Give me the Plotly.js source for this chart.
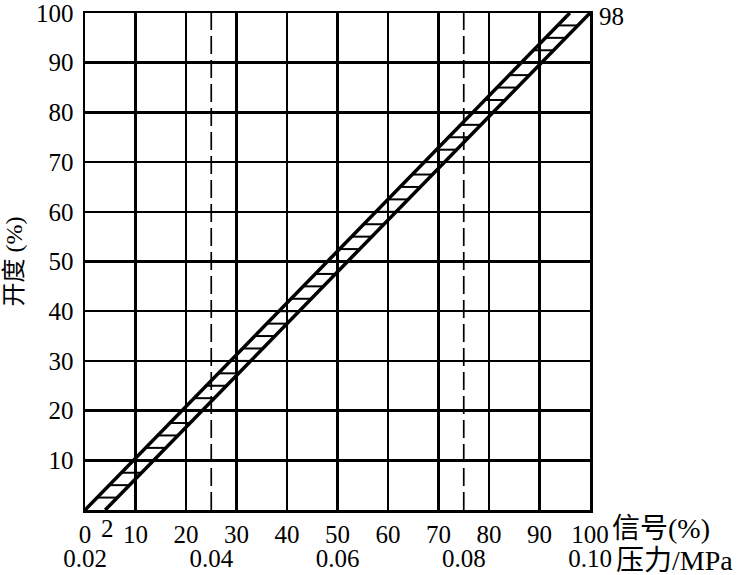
<!DOCTYPE html>
<html><head><meta charset="utf-8">
<script src="https://cdn.plot.ly/plotly-3.0.1.min.js"></script>
<style>html,body{margin:0;padding:0;background:#fff}#chart{width:746px;height:575px}</style>
</head><body><div id="chart"></div>
<script>
// Signal (%) ticks, pressure (MPa) ticks, opening (%) ticks
const signalTicks = [0,10,20,30,40,50,60,70,80,90,100];
const pressureTicks = [0.02,0.04,0.06,0.08,0.10];
const pressureTickText = ['0.02','0.04','0.06','0.08','0.10'];
const openingTicks = [10,20,30,40,50,60,70,80,90,100];

// Upper edge of the band (signal %, opening %)
const upperX = [0, 96];
const upperY = [0, 100];
// Lower edge of the band
const lowerX = [4, 100];
const lowerY = [0, 100];
// Heights of the hatch strokes across the band (opening %)
const hatchY = [2.5,5,7.5,10,12.5,15,17.5,20,22.5,25,27.5,30,32.5,35,37.5,40,42.5,45,
                47.5,50,52.5,55,57.5,60,62.5,65,67.5,70,72.5,75,77.5,80,82.5,85,87.5,90,
                92.5,95,97.5];
// Dashed reference pressures (MPa)
const refPressure = [0.04, 0.08];
const refOpening = [0, 100];
// End labels of the band
const startLabel = '2';
const endLabel = '98';

function edgeX(xs, ys, y){ return xs[0] + (xs[1]-xs[0])*(y-ys[0])/(ys[1]-ys[0]); }

const hx = [], hy = [];
hatchY.forEach(y => {
  hx.push(edgeX(upperX, upperY, y), edgeX(lowerX, lowerY, y), null);
  hy.push(y, y, null);
});

const dx = [], dy = [];
refPressure.forEach(p => { dx.push(p, p, null); dy.push(refOpening[0], refOpening[1], null); });

const serif = 'Liberation Serif, Noto Sans CJK SC, serif';
const tickFont = {family: serif, size: 25, color: '#000'};
const cjkFont = {family: serif, size: 28, color: '#000'};

const traces = [
  {x: hx, y: hy, xaxis: 'x', yaxis: 'y', mode: 'lines', line: {color: '#000', width: 2}, hoverinfo: 'skip', showlegend: false},
  {x: dx, y: dy, xaxis: 'x2', yaxis: 'y', mode: 'lines', line: {color: '#000', width: 1.7, dash: '18px,6px'}, hoverinfo: 'skip', showlegend: false},
  {x: upperX, y: upperY, xaxis: 'x', yaxis: 'y', mode: 'lines', line: {color: '#000', width: 3.5}, showlegend: false},
  {x: lowerX, y: lowerY, xaxis: 'x', yaxis: 'y', mode: 'lines', line: {color: '#000', width: 3.5}, showlegend: false}
];

const layout = {
  width: 746, height: 575,
  margin: {l: 85, r: 156, t: 13, b: 65},
  paper_bgcolor: '#fff', plot_bgcolor: '#fff',
  showlegend: false,
  xaxis: {
    range: [0, 100], tickvals: signalTicks, ticks: '', showgrid: true, gridcolor: '#000', gridwidth: 2.5,
    showline: true, linecolor: '#000', linewidth: 2.5, mirror: true, zeroline: false,
    tickfont: tickFont, ticklabelstandoff: 0, automargin: false, ticklabeloverflow: 'allow'
  },
  xaxis2: {
    overlaying: 'x', anchor: 'y', side: 'bottom', range: [0.02, 0.10],
    tickvals: pressureTicks, ticktext: pressureTickText, ticks: '', showgrid: false, showline: false,
    zeroline: false, tickfont: tickFont, ticklabelstandoff: 31, automargin: false, ticklabeloverflow: 'allow'
  },
  yaxis: {
    range: [0, 100], tickvals: openingTicks, ticks: '', showgrid: true, gridcolor: '#000', gridwidth: 2.5,
    showline: true, linecolor: '#000', linewidth: 2.5, mirror: true, zeroline: false,
    tickfont: tickFont, ticklabelstandoff: 4, automargin: false, ticklabeloverflow: 'allow',
    title: {text: '开度 (%)', font: {family: serif, size: 24, color: '#000'}, standoff: 7}
  },
  annotations: [
    {x: lowerX[0], y: lowerY[0], xref: 'x', yref: 'y', text: startLabel, showarrow: false,
     xanchor: 'center', yanchor: 'top', yshift: -3, xshift: 2, font: tickFont},
    {x: lowerX[1], y: lowerY[1], xref: 'x', yref: 'y', text: endLabel, showarrow: false,
     xanchor: 'left', yanchor: 'top', xshift: 7, yshift: 12, font: tickFont},
    {x: 1, y: 0, xref: 'paper', yref: 'paper', text: '信号(%)', showarrow: false,
     xanchor: 'left', yanchor: 'top', xshift: 20, yshift: -1, font: cjkFont},
    {x: 1, y: 0, xref: 'paper', yref: 'paper', text: '压力/MPa', showarrow: false,
     xanchor: 'left', yanchor: 'top', xshift: 24, yshift: -33, font: cjkFont}
  ]
};

Plotly.newPlot('chart', traces, layout, {staticPlot: true, displayModeBar: false});
</script>
</body></html>
